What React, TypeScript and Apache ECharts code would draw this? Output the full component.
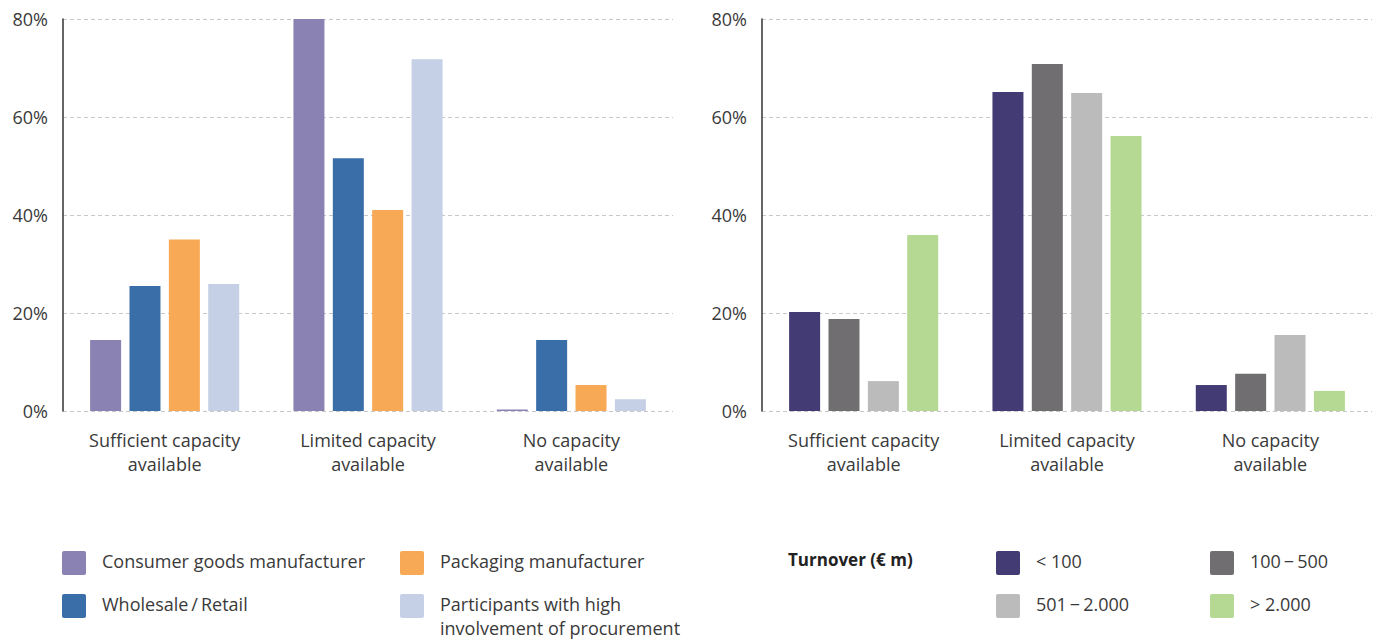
import React, { useEffect, useRef } from "react";
import * as echarts from "echarts";

const categories = ["Sufficient capacity\navailable", "Limited capacity\navailable", "No capacity\navailable"];
const yTicks = [0, 20, 40, 60, 80];

const leftNames = ["Consumer goods manufacturer", "Wholesale\u2009/\u2009Retail", "Packaging manufacturer", "Participants with high\ninvolvement of procurement"];
const leftColors = ["#8A82B3", "#3A6EA8", "#F7A955", "#C5CFE6"];
const consumerGoods = [14.5, 80, 0.3];
const wholesaleRetail = [25.5, 51.6, 14.5];
const packaging = [35, 41, 5.3];
const procurement = [25.9, 71.8, 2.4];

const rightNames = ["< 100", "100\u2009\u2212\u2009500", "501\u2009\u2212\u20092.000", "> 2.000"];
const rightColors = ["#433C74", "#706E71", "#BBBBBB", "#B5D993"];
const under100 = [20.2, 65.1, 5.3];
const from100to500 = [18.8, 70.8, 7.6];
const from501to2000 = [6.1, 64.9, 15.5];
const over2000 = [35.9, 56.1, 4.1];

const FONT = "'Open Sans', sans-serif";
const TEXT = "#3a3a3a";

export default function App() {
  const ref = useRef<HTMLDivElement>(null);
  useEffect(() => {
    const chart = echarts.init(ref.current!, null, { renderer: "svg" });
    const leftData = [consumerGoods, wholesaleRetail, packaging, procurement];
    const rightData = [under100, from100to500, from501to2000, over2000];

    const xAxis = (gridIndex: number) => ({
      type: "category",
      gridIndex,
      data: categories,
      axisLine: { show: false },
      axisTick: { show: false },
      axisLabel: { color: TEXT, fontSize: 18, fontFamily: FONT, lineHeight: 24, margin: 17 },
    });
    const yAxis = (gridIndex: number) => ({
      type: "value",
      gridIndex,
      min: yTicks[0],
      max: yTicks[yTicks.length - 1],
      interval: 20,
      axisLine: { show: true, lineStyle: { color: "#333", width: 1.5 } },
      axisTick: { show: false },
      axisLabel: { color: TEXT, fontSize: 18, fontFamily: FONT, margin: 15, formatter: (v: number) => v + "%" },
      splitLine: { show: true, lineStyle: { color: "#c8c8c8", type: [4, 3], width: 1 } },
    });

    const series: any[] = [];
    leftData.forEach((d, i) => {
      series.push({
        type: "bar",
        name: leftNames[i],
        xAxisIndex: 0,
        yAxisIndex: 0,
        data: d,
        barWidth: 31,
        barGap: "27%",
        itemStyle: { color: leftColors[i] },
      });
    });
    rightData.forEach((d, i) => {
      series.push({
        type: "bar",
        name: rightNames[i],
        xAxisIndex: 1,
        yAxisIndex: 1,
        data: d,
        barWidth: 31,
        barGap: "27%",
        itemStyle: { color: rightColors[i] },
      });
    });

    const legendItem = (x: number, y: number, color: string, text: string) => [
      { type: "rect", left: x, top: y, shape: { width: 24, height: 24, r: 2 }, style: { fill: color } },
      {
        type: "text",
        left: x + 40,
        top: y - 2,
        style: { text, fill: TEXT, font: `18px ${FONT}`, lineHeight: 24 },
      },
    ];

    const graphic: any[] = [
      ...legendItem(62, 551, leftColors[0], leftNames[0]),
      ...legendItem(62, 594, leftColors[1], leftNames[1]),
      ...legendItem(400, 551, leftColors[2], leftNames[2]),
      ...legendItem(400, 594, leftColors[3], leftNames[3]),
      {
        type: "text",
        left: 788,
        top: 551,
        style: { text: "Turnover (\u20AC m)", fill: "#222", font: `bold 17px ${FONT}` },
      },
      ...legendItem(996, 551, rightColors[0], rightNames[0]),
      ...legendItem(1210, 551, rightColors[1], rightNames[1]),
      ...legendItem(996, 594, rightColors[2], rightNames[2]),
      ...legendItem(1210, 594, rightColors[3], rightNames[3]),
    ];

    chart.setOption({
      animation: false,
      textStyle: { fontFamily: FONT },
      grid: [
        { left: 63, width: 610, top: 19, height: 392 },
        { left: 762, width: 610, top: 19, height: 392 },
      ],
      xAxis: [xAxis(0), xAxis(1)],
      yAxis: [yAxis(0), yAxis(1)],
      series,
      graphic,
    });
    return () => chart.dispose();
  }, []);
  return (
    <div
      ref={ref}
      style={{ position: "fixed", left: 0, top: 0, width: 1384, height: 642, background: "#fff" }}
    />
  );
}
